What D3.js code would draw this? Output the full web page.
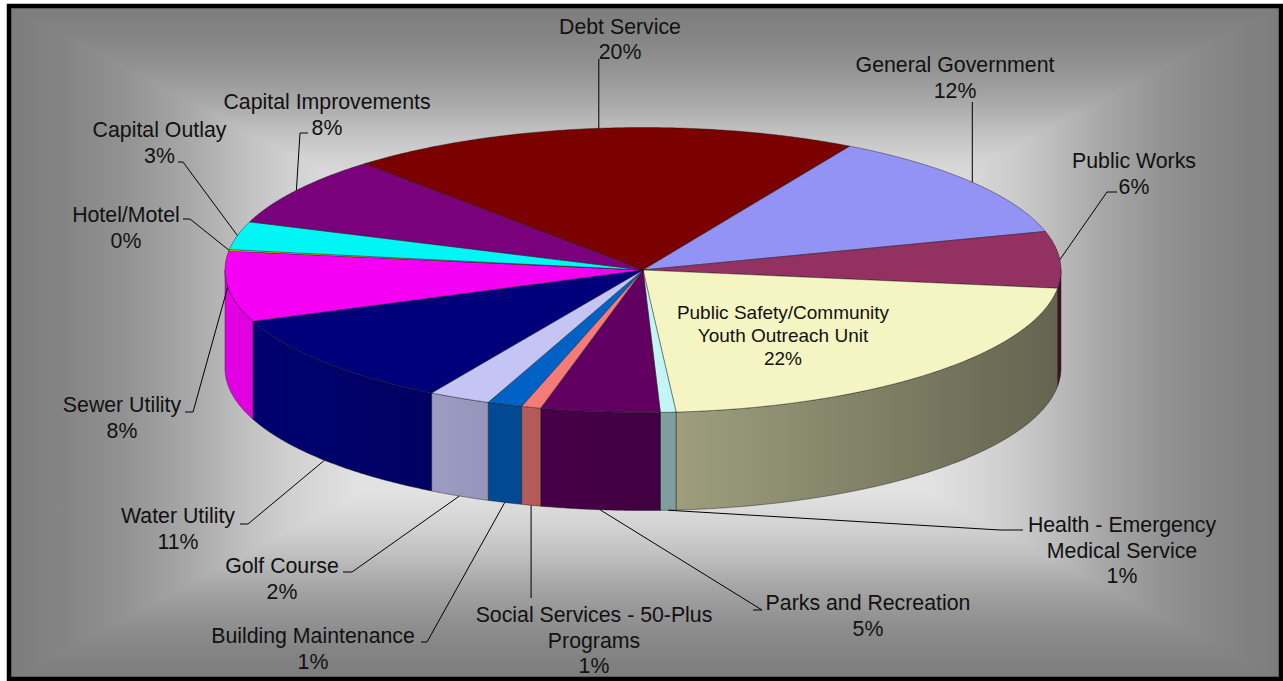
<!DOCTYPE html>
<html>
<head>
<meta charset="utf-8">
<script src="https://cdn.jsdelivr.net/npm/d3@7"></script>
<style>
  html, body { margin: 0; padding: 0; background: #ffffff; }
  svg { display: block; }
</style>
</head>
<body>
<svg id="chart" width="1283" height="681"></svg>
<script>
// ---- Data: share of the budget by function (percent) ----
const categories = [
  "Debt Service",
  "General Government",
  "Public Works",
  "Public Safety/Community\nYouth Outreach Unit",
  "Health - Emergency\nMedical Service",
  "Parks and Recreation",
  "Social Services - 50-Plus\nPrograms",
  "Building Maintenance",
  "Golf Course",
  "Water Utility",
  "Sewer Utility",
  "Hotel/Motel",
  "Capital Outlay",
  "Capital Improvements"
];
const shares = [19.85, 12.4, 6.4, 21.7, 0.6, 4.6, 0.75, 1.35, 2.4, 10.7, 8.0, 0.15, 3.2, 7.9];

// ---- Styles ----
const sliceColors = [
  "#800000", "#9999FF", "#993366", "#FFFFCC", "#CCFFFF", "#660066", "#FF8080",
  "#0066CC", "#CCCCFF", "#000080", "#FF00FF", "#FFFF00", "#00FFFF", "#800080"
];

// ---- Label placement (text centre x, first baseline y, leader bends) ----
const labelLayout = [
  { x: 620,   y: 33.5,  leader: [[null, 59]] },
  { x: 955,   y: 72,    leader: [[null, 102]] },
  { x: 1134,  y: 168,   leader: [[1107, 192], [1117, 192]] },
  { x: 783,   y: 318.6, inside: true },
  { x: 1122,  y: 532,   leader: [[1000, 530], [1023, 530]] },
  { x: 868,   y: 610,   leader: [[762, 610], [753, 610]] },
  { x: 594,   y: 622,   leader: [[null, 598]] },
  { x: 313,   y: 643,   leader: [[427, 642], [421, 642]] },
  { x: 282,   y: 573,   leader: [[352, 572], [343, 572]] },
  { x: 178,   y: 523,   leader: [[248, 524], [240, 524]] },
  { x: 122,   y: 412,   leader: [[193, 412], [185, 412]] },
  { x: 126,   y: 222,   leader: [[190, 219], [183, 219]] },
  { x: 159.5, y: 137,   leader: [[183, 162], [178, 162]] },
  { x: 327,   y: 109,   leader: [[300, 133], [308, 133]] }
];

const W = 1283, H = 681;
const svg = d3.select("#chart");
const defs = svg.append("defs");

// ---- Frame with a rectangular "from centre" gradient ----
const frame = { x0: 9, y0: 6, x1: 1281, y1: 679 };
const gcx = (frame.x0 + frame.x1) / 2, gcy = (frame.y0 + frame.y1) / 2;
// t = 0 at the centre, 1 at the frame edge
const bgStops = [
  [0, 236], [0.45, 226], [0.56, 208], [0.63, 192], [0.72, 167],
  [0.82, 146], [0.9, 134], [1, 124]
];
const grey = v => d3.rgb(v, v, v).toString();

const hGrad = defs.append("linearGradient").attr("id", "bgH")
  .attr("gradientUnits", "userSpaceOnUse")
  .attr("x1", frame.x0).attr("x2", frame.x1).attr("y1", 0).attr("y2", 0);
const hs = [];
bgStops.slice().reverse().forEach(([t, v]) => hs.push([0.5 - 0.5 * t, v]));
bgStops.forEach(([t, v]) => { if (t > 0) hs.push([0.5 + 0.5 * t, v]); });
hs.forEach(([o, v]) => hGrad.append("stop").attr("offset", o).attr("stop-color", grey(v)));

const vGrad = defs.append("linearGradient").attr("id", "bgV")
  .attr("gradientUnits", "userSpaceOnUse")
  .attr("x1", 0).attr("x2", 0).attr("y1", frame.y0).attr("y2", frame.y1);
hs.forEach(([o, v]) => vGrad.append("stop").attr("offset", o).attr("stop-color", grey(v)));

svg.append("rect")
  .attr("x", frame.x0).attr("y", frame.y0)
  .attr("width", frame.x1 - frame.x0).attr("height", frame.y1 - frame.y0)
  .attr("fill", "url(#bgH)");
const tri = pts => "M" + pts.map(p => p.join(",")).join("L") + "Z";
svg.append("path")
  .attr("d", tri([[frame.x0, frame.y0], [frame.x1, frame.y0], [gcx, gcy]]))
  .attr("fill", "url(#bgV)");
svg.append("path")
  .attr("d", tri([[frame.x0, frame.y1], [frame.x1, frame.y1], [gcx, gcy]]))
  .attr("fill", "url(#bgV)");
svg.append("rect")
  .attr("x", frame.x0).attr("y", frame.y0)
  .attr("width", frame.x1 - frame.x0).attr("height", frame.y1 - frame.y0)
  .attr("fill", "none").attr("stroke", "#000").attr("stroke-width", 4.5);

// ---- 3-D pie geometry ----
const cx = 643, cy = 270, rx = 418, ry = 142.5, depth = 98;
const deg = Math.PI / 180;
const pie = d3.pie().sort(null).value(d => d)
  .startAngle(-41.8 * deg).endAngle(-41.8 * deg + 2 * Math.PI);
const arcs = pie(shares);

const px = a => cx + rx * Math.sin(a);
const py = (a, dz = 0) => cy - ry * Math.cos(a) + dz;
const sample = (a0, a1) => {
  const n = Math.max(2, Math.ceil(Math.abs(a1 - a0) / (0.4 * deg)));
  return d3.range(n + 1).map(i => a0 + (a1 - a0) * i / n);
};
const line = d3.line();

// side wall shading: lit from the left, darker toward the right
const shade = a => 0.64 - 0.25 * Math.sin(a);
const scaleColor = (c, k) => {
  const r = d3.rgb(c);
  return d3.rgb(r.r * k, r.g * k, r.b * k).toString();
};

const pieG = svg.append("g");

// outer walls (front half only)
arcs.forEach((d, i) => {
  const s0 = Math.max(d.startAngle, Math.PI / 2);
  const s1 = Math.min(d.endAngle, 3 * Math.PI / 2);
  if (s1 <= s0) return;
  const angs = sample(s0, s1);
  const gid = "side" + i;
  const g = defs.append("linearGradient").attr("id", gid)
    .attr("gradientUnits", "userSpaceOnUse")
    .attr("x1", px(s0)).attr("x2", px(s1)).attr("y1", 0).attr("y2", 0);
  const span = px(s1) - px(s0);
  angs.forEach(a => {
    g.append("stop")
      .attr("offset", span === 0 ? 0 : (px(a) - px(s0)) / span)
      .attr("stop-color", scaleColor(sliceColors[i], shade(a)));
  });
  const pts = angs.map(a => [px(a), py(a)])
    .concat(angs.slice().reverse().map(a => [px(a), py(a, depth)]));
  pieG.append("path")
    .attr("d", line(pts) + "Z")
    .attr("fill", `url(#${gid})`)
    .attr("stroke", "rgba(20,20,20,0.7)")
    .attr("stroke-width", 0.6)
    .attr("stroke-linejoin", "round");
});

// top faces
arcs.forEach((d, i) => {
  const pts = [[cx, cy]].concat(sample(d.startAngle, d.endAngle).map(a => [px(a), py(a)]));
  pieG.append("path")
    .attr("d", line(pts) + "Z")
    .attr("fill", scaleColor(sliceColors[i], 0.96))
    .attr("stroke", "rgba(20,20,20,0.7)")
    .attr("stroke-width", 0.6)
    .attr("stroke-linejoin", "round");
});

// ---- Leader lines and labels ----
const labelG = svg.append("g")
  .attr("font-family", "'Liberation Sans', Arial, sans-serif")
  .attr("fill", "#111");

arcs.forEach((d, i) => {
  const L = labelLayout[i];
  const lines = categories[i].split("\n").concat([Math.round(shares[i]) + "%"]);
  const inside = !!L.inside;
  const fs = inside ? 19 : 21.3;
  const lh = inside ? 23.3 : 25.7;

  if (!inside) {
    const m = (d.startAngle + d.endAngle) / 2;
    const front = Math.cos(m) < -0.3;
    const start = [px(m), py(m, front ? depth : 0)];
    const pts = [start].concat(L.leader.map(p => [p[0] === null ? start[0] : p[0], p[1]]));
    labelG.append("path")
      .attr("d", line(pts))
      .attr("fill", "none")
      .attr("stroke", "#000")
      .attr("stroke-width", 1);
  }

  const t = labelG.append("text")
    .attr("text-anchor", "middle")
    .attr("font-size", fs);
  lines.forEach((s, k) => {
    t.append("tspan").attr("x", L.x).attr("y", L.y + k * lh).text(s);
  });
});
</script>
</body>
</html>
